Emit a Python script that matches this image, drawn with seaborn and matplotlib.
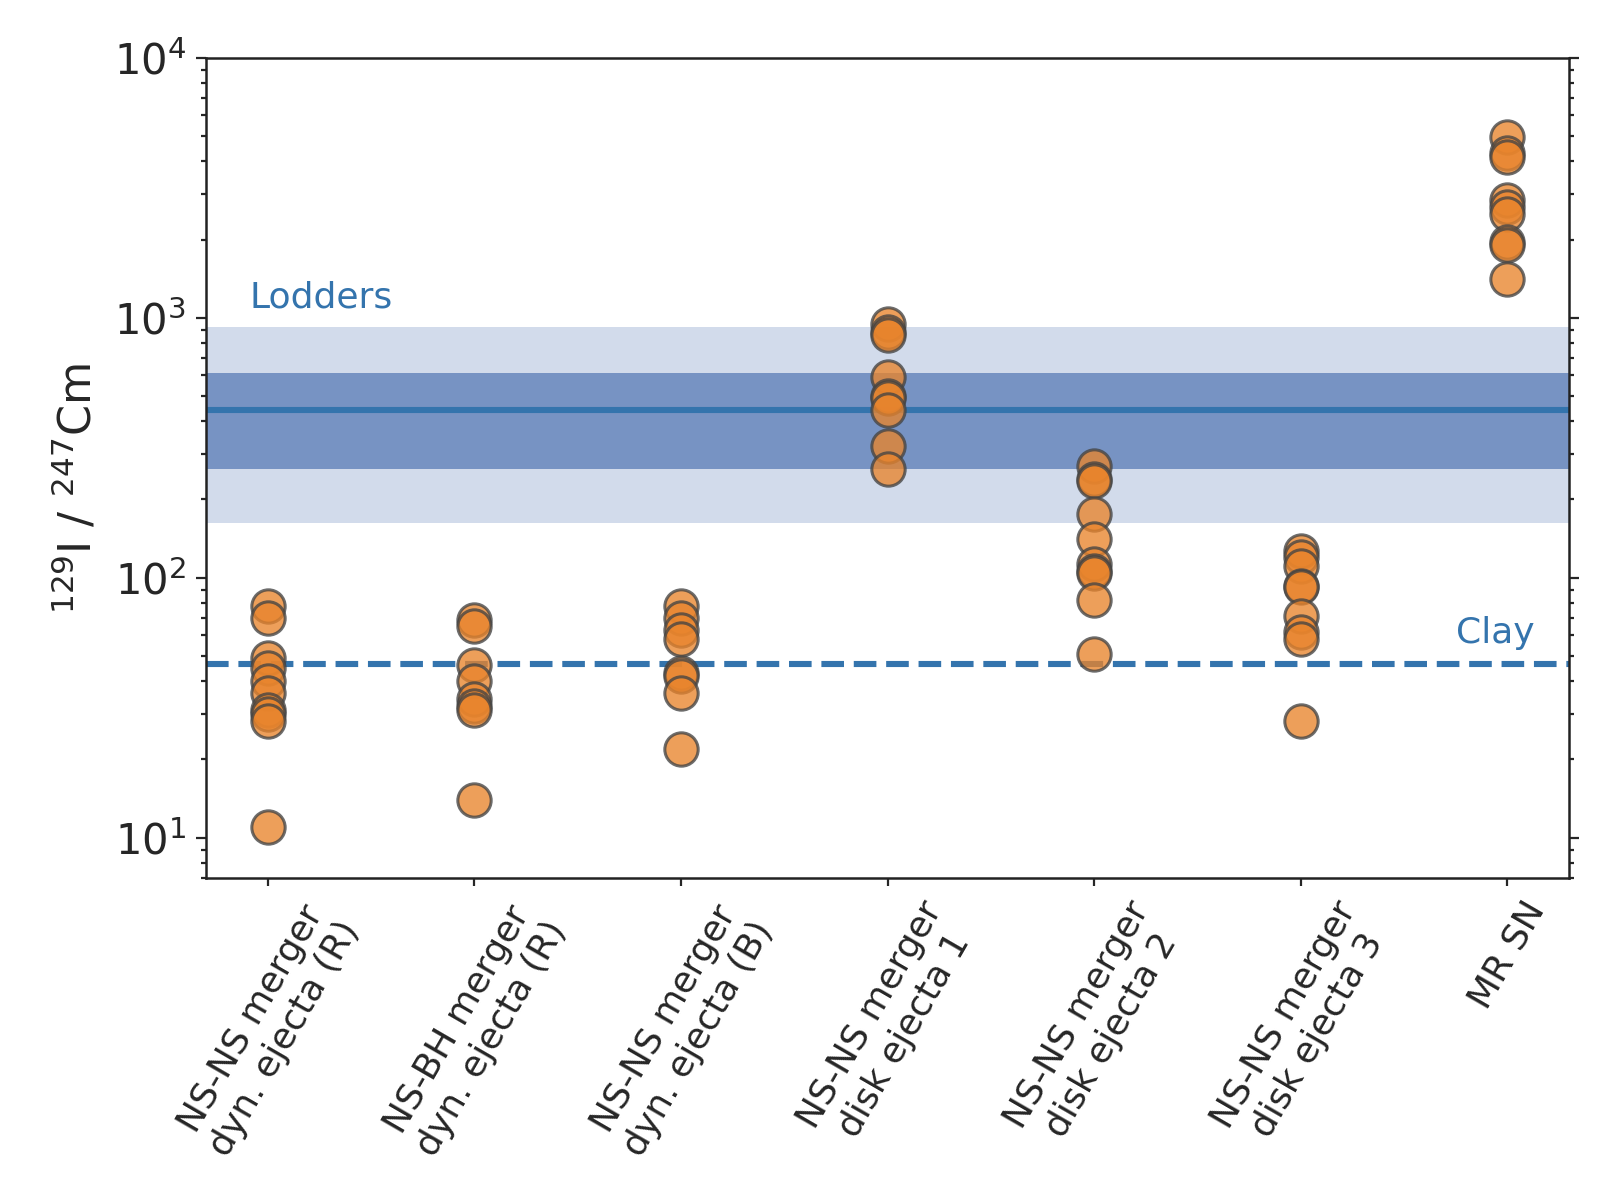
import numpy as np
import pandas as pd
import matplotlib
matplotlib.use("Agg")
import matplotlib.pyplot as plt
import seaborn as sns

sns.set_theme(style="ticks")
plt.rcParams["font.family"] = ["DejaVu Sans"]

# Adatok (leolvasva)
categories = [
    "NS-NS merger\ndyn. ejecta (R)",
    "NS-BH merger\ndyn. ejecta (R)",
    "NS-NS merger\ndyn. ejecta (B)",
    "NS-NS merger\ndisk ejecta 1",
    "NS-NS merger\ndisk ejecta 2",
    "NS-NS merger\ndisk ejecta 3",
    "MR SN",
]
ns_ns_dyn_r = [78, 70, 49, 45, 40, 36, 31, 30, 28, 11]
ns_bh_dyn_r = [69, 65, 46, 40, 34, 32, 31, 14]
ns_ns_dyn_b = [78, 70, 63, 58, 43, 42, 36, 22]
disk_1 = [950, 880, 860, 590, 500, 490, 440, 320, 262]
disk_2 = [270, 240, 236, 176, 141, 113, 106, 104, 82, 51]
disk_3 = [127, 120, 111, 93, 92, 71, 62, 58, 28]
mr_sn = [4980, 4300, 4150, 2830, 2660, 2510, 1950, 1900, 1410]

lodders_value = 440
lodders_1sigma = (262, 614)
lodders_2sigma = (163, 923)
clay_value = 46.7

series = [ns_ns_dyn_r, ns_bh_dyn_r, ns_ns_dyn_b, disk_1, disk_2, disk_3, mr_sn]
df = pd.DataFrame({
    "site": [c for c, vals in zip(categories, series) for _ in vals],
    "ratio": [v for vals in series for v in vals],
})

blue_fill = "#4C72B0"
blue_line = "#3474ad"

fig, ax = plt.subplots(figsize=(8.04, 5.9), dpi=200)
fig.subplots_adjust(left=0.128, right=0.976, top=0.951, bottom=0.256)
ax.set_yscale("log")

# Lodders sávok
ax.axhspan(*lodders_2sigma, color=blue_fill, alpha=0.25, lw=0)
ax.axhspan(*lodders_1sigma, color=blue_fill, alpha=0.68, lw=0)
ax.axhline(lodders_value, color=blue_line, lw=2.2)
ax.axhline(clay_value, color=blue_line, lw=2.2, ls="--")

sns.stripplot(data=df, x="site", y="ratio", order=categories, jitter=False,
              size=12, color="#e8842c", alpha=0.78, edgecolor="#444444",
              linewidth=1.1, ax=ax, zorder=3)

ax.text(-0.09, 1093, "Lodders", color=blue_line, fontsize=13, va="baseline")
ax.text(6.13, 56, "Clay", color=blue_line, fontsize=13, va="baseline", ha="right")

ax.set_xlim(-0.3, 6.3)
ax.set_ylim(7, 1e4)
ax.set_xlabel("")
ax.set_ylabel(r"$^{129}$I / $^{247}$Cm", fontsize=16)
ax.yaxis.set_label_coords(-0.077, 0.474)
ax.tick_params(axis="y", which="both", left=True, right=True, direction="out")
ax.tick_params(axis="y", which="major", length=3.6, width=0.8, labelsize=15)
ax.tick_params(axis="y", which="minor", length=1.8, width=0.8)
ax.tick_params(axis="x", length=3, width=0.8, labelsize=13)
plt.setp(ax.get_xticklabels(), rotation=60, ha="center")
for sp in ax.spines.values():
    sp.set_linewidth(0.9)
    sp.set_color("#222222")

fig.savefig("out.png", dpi=200)
